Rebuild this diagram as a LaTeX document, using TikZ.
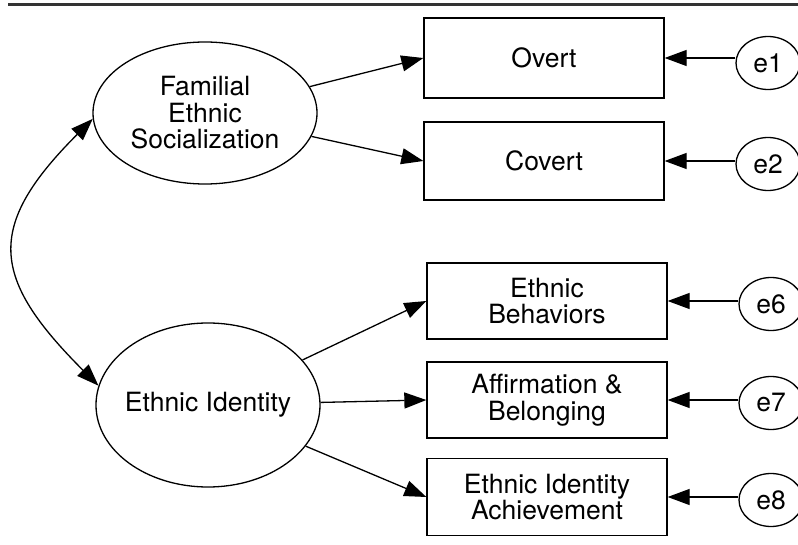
\documentclass[tikz,border=0pt]{standalone}
\usepackage{fontspec}
\setmainfont{TeX Gyre Heros}
\usetikzlibrary{arrows.meta,shapes.geometric}

\begin{document}
\begin{tikzpicture}[
  x=1pt,
  y=1pt,
  >={Triangle[length=22pt,width=16pt]},
  every node/.style={font=\fontsize{26.5}{26.5}\selectfont, line width=1.3pt},
  latent/.style={draw, ellipse, inner ysep=0pt, inner xsep=-10pt, align=center},
  observed/.style={draw, rectangle, minimum width=240pt, align=center},
  errterm/.style={draw, ellipse, minimum width=64pt, minimum height=53pt, inner sep=0pt},
  link/.style={->, line width=1.3pt}
]
\useasboundingbox (0,0) rectangle (798,544);

% Top rule
\draw[line width=3pt, black!80] (8,539) -- (798,539);

% --- Latent factors ---
\node[latent, minimum width=224pt, minimum height=142pt] (fes) at (205,431) {Familial\\Ethnic\\Socialization};
\node[latent, minimum width=224pt, minimum height=164pt] (ei) at (208,139) {Ethnic Identity};

% --- Indicators ---
\node[observed, minimum height=80pt] (overt) at (544,486) {Overt};
\node[observed, minimum height=78pt] (covert) at (544,383) {Covert};
\node[observed, minimum height=76pt] (behav) at (547,243) {Ethnic\\Behaviors};
\node[observed, minimum height=76pt] (affirm) at (547,144) {Affirmation \&\\Belonging};
\node[observed, minimum height=77pt] (achieve) at (547,47) {Ethnic Identity\\Achievement};

% --- Error terms ---
\node[errterm] (e1) at (768,481) {e1};
\node[errterm] (e2) at (768,380) {e2};
\node[errterm] (e6) at (771,240) {e6};
\node[errterm] (e7) at (771,141) {e7};
\node[errterm] (e8) at (771,44) {e8};

% Loadings
\draw[link] (fes) -- (overt.west);
\draw[link] (fes) -- (covert.west);
\draw[link] (ei) -- (behav.west);
\draw[link] (ei) -- (affirm.west);
\draw[link] (ei) -- (achieve.west);

% Errors
\draw[link] (e1.west |- overt.east) -- (overt.east);
\draw[link] (e2.west |- covert.east) -- (covert.east);
\draw[link] (e6.west |- behav.east) -- (behav.east);
\draw[link] (e7.west |- affirm.east) -- (affirm.east);
\draw[link] (e8.west |- achieve.east) -- (achieve.east);

% Covariance
\draw[link, <->] (fes.183) to[out=225, in=135, looseness=1.46] (ei.170);

\end{tikzpicture}
\end{document}
